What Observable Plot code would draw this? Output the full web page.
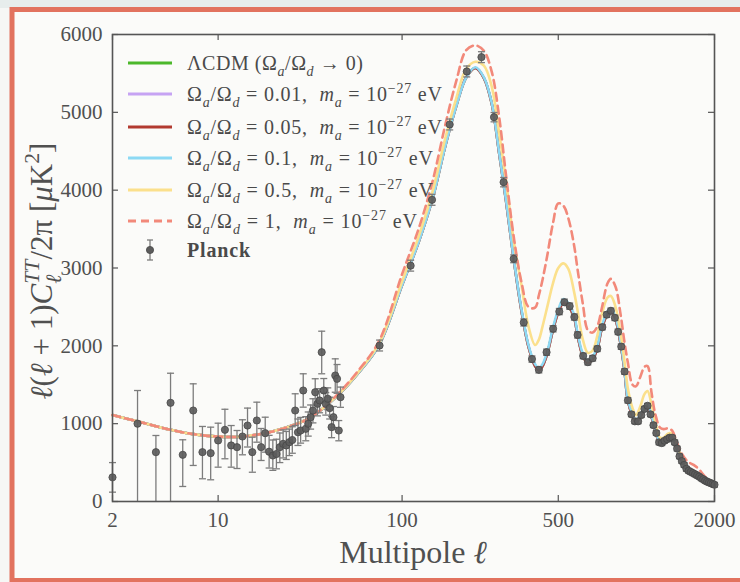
<!DOCTYPE html>
<html><head><meta charset="utf-8">
<script src="https://cdn.jsdelivr.net/npm/d3@7"></script>
<script src="https://cdn.jsdelivr.net/npm/@observablehq/plot@0.6"></script>
<style>
html,body{margin:0;padding:0;background:#f8f8f6;}
#chart svg{display:block}
</style></head><body><div id="chart"></div>
<script>
const xTicks = [2, 10, 100, 500, 2000];
const yTicks = [0, 1000, 2000, 3000, 4000, 5000, 6000];

// model curves: multipole grid and D_ell values per series
const ell = [2,3,4,5,7,10,13,18,25,34,47,60,77,100,120,140,160,180,200,220,240,260,280,300,325,350,375,400,415,430,450,475,500,525,550,580,600,630,660,690,720,750,790,815,850,890,920,950,990,1020,1060,1100,1130,1170,1210,1260,1300,1350,1400,1450,1500,1550,1600,1680,1750,1850,1950,2000];
const dLCDM = [1110,1030,968,922,866,834,830,868,950,1080,1355,1640,2010,2780,3330,3900,4560,5080,5450,5570,5440,5110,4480,3870,3090,2450,1990,1740,1690,1740,1900,2200,2430,2560,2510,2370,2130,1870,1780,1830,1960,2220,2410,2450,2340,2020,1700,1290,1100,1020,1090,1190,1225,1090,910,745,770,810,820,700,565,470,400,355,330,270,225,215];
const dPurple = [1110,1030,968,922,866,834,830,868,950,1080,1355,1640,2010,2780,3330,3900,4560,5080,5450,5570,5440,5110,4480,3870,3090,2450,1990,1740,1685,1740,1900,2200,2430,2555,2510,2370,2130,1870,1780,1830,1960,2220,2410,2450,2340,2020,1700,1290,1100,1020,1090,1190,1225,1090,910,745,770,810,820,700,565,470,400,355,330,270,225,215];
const dRed = [1110,1030,968,922,866,834,830,868,950,1080,1355,1640,2010,2780,3330,3900,4560,5080,5450,5570,5440,5110,4480,3870,3090,2450,1990,1740,1685,1740,1900,2200,2430,2550,2510,2370,2130,1870,1780,1830,1960,2220,2410,2450,2340,2020,1700,1290,1100,1020,1090,1190,1225,1090,910,745,770,810,820,700,565,470,400,355,330,270,225,215];
const dBlue = [1110,1030,968,922,866,834,830,868,950,1080,1355,1640,2010,2780,3330,3900,4560,5080,5450,5580,5450,5120,4490,3880,3100,2470,2010,1765,1715,1765,1925,2230,2465,2600,2550,2400,2160,1900,1810,1860,1990,2250,2440,2480,2370,2050,1720,1310,1120,1040,1110,1210,1245,1110,930,760,785,825,835,715,575,478,405,358,332,272,227,217];
const dYellow = [1110,1030,968,922,866,834,830,868,950,1080,1360,1650,2030,2830,3400,3990,4660,5180,5560,5650,5600,5330,4740,4130,3330,2780,2250,2010,2080,2250,2500,2800,3000,3060,2990,2700,2450,2080,1910,1940,2130,2400,2620,2640,2500,2160,1820,1450,1200,1110,1220,1380,1420,1250,1020,820,820,870,880,750,610,500,430,380,350,285,235,225];
const dDashed = [1110,1030,968,922,866,834,830,868,950,1080,1370,1670,2060,2920,3500,4120,4830,5400,5800,5860,5790,5520,4950,4200,3380,2820,2500,2490,2650,2850,3160,3570,3830,3800,3640,3300,2980,2540,2200,2170,2250,2480,2800,2860,2760,2400,2060,1780,1500,1480,1600,1730,1740,1400,1120,950,930,940,910,780,650,570,510,470,420,320,260,240];

// Planck low-ell (unbinned) points
const lowEll = [2,3,4,5,6,7,8,9,10,11,12,13,14,15,16,17,18,19,20,21,22,23,24,25,26,27,28,29,30,31,32,33,34,35,36,37,38,39,40,41,42,43,44,45,46,47,48,49];
const lowD = [310,1000,634,1268,600,1169,634,621,784,921,720,698,835,976,634,1041,698,878,640,591,610,698,741,720,762,790,1169,890,912,1426,934,998,1083,1169,1404,1255,1298,1918,1426,1255,1320,1200,955,1083,1619,1576,912,1340];
const lowLo = [120,0,0,0,193,463,292,279,441,549,441,424,600,700,376,762,527,634,430,400,420,500,560,540,590,620,976,720,750,1212,780,840,930,1010,1233,1100,1140,1641,1270,1110,1180,1060,820,950,1404,1390,780,1210];
const lowHi = [500,1426,848,1648,793,1512,964,955,1006,1185,976,912,1050,1200,826,1276,938,1083,850,790,800,880,920,900,930,960,1384,1060,1080,1641,1090,1150,1240,1320,1577,1410,1450,2188,1580,1400,1460,1340,1090,1220,1833,1760,1040,1470];

// Planck binned points
const binEll = [77.5,110,139,168,201,234,266,293,324,358,388,415,447,476,505,530,557,582,600,632,660,690,720,754,785,815,845,870,895,922,950,980,1010,1040,1070,1100,1130,1160,1190,1220,1250,1280,1310,1340,1370,1400,1430,1460,1490,1520,1550,1580,1610,1640,1670,1700,1730,1760,1790,1820,1850,1880,1910,1940,1970,2000];
const binD = [2004,3030,3876,4844,5525,5709,4938,4103,3118,2300,1830,1692,1918,2219,2440,2560,2510,2370,2140,1870,1790,1840,1962,2240,2400,2450,2360,2180,1990,1670,1300,1120,1030,1030,1110,1190,1230,1120,980,880,760,750,780,800,820,820,760,680,580,520,470,420,395,380,365,350,335,320,300,285,268,255,245,235,225,215];
const binErr = [70,70,70,70,70,70,60,60,50,45,40,40,40,40,40,40,40,40,40,35,35,35,35,35,35,35,35,35,35,35,35,30,30,30,30,30,30,30,30,30,30,30,30,30,30,30,30,30,30,30,30,30,30,30,30,30,30,30,30,30,30,30,30,30,30,30];

const legendLabels = [
  "ΛCDM (Ω_{a}/Ω_{d} → 0)",
  "Ω_{a}/Ω_{d} = 0.01,  $m$_{a} = 10^{−27} eV",
  "Ω_{a}/Ω_{d} = 0.05,  $m$_{a} = 10^{−27} eV",
  "Ω_{a}/Ω_{d} = 0.1,  $m$_{a} = 10^{−27} eV",
  "Ω_{a}/Ω_{d} = 0.5,  $m$_{a} = 10^{−27} eV",
  "Ω_{a}/Ω_{d} = 1,  $m$_{a} = 10^{−27} eV",
  "Planck"
];

// styles (kept apart from data)
const seriesStyle = [
  {d: dLCDM,   color: "#4cb82b", dash: null},
  {d: dPurple, color: "#c6a3f3", dash: null},
  {d: dRed,    color: "#b23a30", dash: null},
  {d: dBlue,   color: "#8cd9f4", dash: null},
  {d: dYellow, color: "#fbe08c", dash: null},
  {d: dDashed, color: "#f2897a", dash: "8,5"}
];
const legendLengths = [176, 255, 255, 246, 246, 230, 63];

const planck = [
  ...lowEll.map((l, i) => ({ell: l, D: lowD[i], lo: lowLo[i], hi: lowHi[i]})),
  ...binEll.map((l, i) => ({ell: l, D: binD[i], lo: binD[i] - binErr[i], hi: binD[i] + binErr[i]}))
];

const capSymbol = {draw(ctx, size) { const r = Math.sqrt(size / Math.PI); ctx.moveTo(-r, 0); ctx.lineTo(r, 0); }};

const W = 740, H = 582, ML = 112, MR = 26, MT = 34, MB = 81;
const frameW = W - ML - MR, frameH = H - MT - MB;
const tick = 6;
const axisColor = "#555";

const marks = [];
seriesStyle.forEach(s => {
  marks.push(Plot.line(ell.map((l, i) => ({ell: l, D: s.d[i]})), {
    x: "ell", y: "D", stroke: s.color, strokeWidth: 2.6, curve: "catmull-rom",
    strokeDasharray: s.dash
  }));
});
marks.push(
  Plot.ruleX(planck, {x: "ell", y1: "lo", y2: "hi", stroke: "#7c7c7c", strokeWidth: 1.3}),
  Plot.dot(planck, {x: "ell", y: "hi", r: 3.5, symbol: capSymbol, stroke: "#7c7c7c", strokeWidth: 1.3, fill: "none"}),
  Plot.dot(planck.filter(d => d.lo > 0), {x: "ell", y: "lo", r: 3.5, symbol: capSymbol, stroke: "#7c7c7c", strokeWidth: 1.3, fill: "none"}),
  Plot.dot(planck, {x: "ell", y: "D", r: 3.6, fill: "#5c5c5c", fillOpacity: 0.92, stroke: "#474747", strokeWidth: 0.8}),
  Plot.tickX(xTicks, {x: d => d, insetTop: frameH - tick, stroke: axisColor, strokeWidth: 1.2}),
  Plot.tickX(xTicks, {x: d => d, insetBottom: frameH - tick, stroke: axisColor, strokeWidth: 1.2}),
  Plot.tickY(yTicks, {y: d => d, insetRight: frameW - tick, stroke: axisColor, strokeWidth: 1.2}),
  Plot.tickY(yTicks, {y: d => d, insetLeft: frameW - tick, stroke: axisColor, strokeWidth: 1.2}),
  Plot.frame({stroke: axisColor, strokeWidth: 1.6}),
  Plot.axisX({ticks: xTicks, tickSize: 0, tickPadding: 11, tickFormat: d => String(d), label: null, fontSize: 21}),
  Plot.axisY({ticks: yTicks, tickSize: 0, tickPadding: 10, tickFormat: d => String(d), label: null, fontSize: 21})
);

const chart = Plot.plot({
  width: W, height: H,
  marginLeft: ML, marginRight: MR, marginTop: MT, marginBottom: MB,
  x: {type: "pow", exponent: 0.1, domain: [2, 2000]},
  y: {domain: [0, 6000]},
  style: {fontFamily: "'Liberation Serif', serif", color: "#505050", background: "none", overflow: "visible"},
  marks
});
document.getElementById("chart").appendChild(chart);

const svg = d3.select(chart);
// backgrounds
const bg = svg.insert("g", ":first-child");
bg.append("rect").attr("x", 0).attr("y", 0).attr("width", W).attr("height", H).attr("fill", "#fbfbf9");
bg.append("rect").attr("x", 0).attr("y", 0).attr("width", W).attr("height", 8).attr("fill", "#e7edec");
bg.append("rect").attr("x", 0).attr("y", 8).attr("width", 10).attr("height", H).attr("fill", "#f6f7f5");

// rich text helper: _{sub}, ^{sup}, ~{sup stacked over previous sub}, $italic$
function richText(sel, str, base) {
  const tokens = str.split(/(_\{[^}]*\}|\^\{[^}]*\}|~\{[^}]*\}|\$[^$]*\$)/).filter(t => t.length);
  let shift = 0, lastLen = 0;
  tokens.forEach(t => {
    let txt = t, size = base, target = 0, italic = false, dx = 0;
    if (t.startsWith("_{")) { txt = t.slice(2, -1); size = base * 0.7; target = base * 0.28; italic = /[a-zℓ]/.test(txt); }
    else if (t.startsWith("^{")) { txt = t.slice(2, -1); size = base * 0.7; target = -base * 0.42; }
    else if (t.startsWith("~{")) { txt = t.slice(2, -1); size = base * 0.7; target = -base * 0.42; italic = true; dx = -lastLen; }
    else if (t.startsWith("$")) { txt = t.slice(1, -1); italic = true; }
    const ts = sel.append("tspan").text(txt).attr("font-size", size).attr("dy", target - shift);
    if (dx) ts.attr("dx", dx);
    if (italic) ts.attr("font-style", "italic");
    lastLen = ts.node().getComputedTextLength();
    shift = target;
  });
  if (shift) sel.append("tspan").text("\u200b").attr("dy", -shift);
}

// legend
const legend = svg.append("g").attr("font-family", "'Liberation Serif', serif").attr("fill", "#4a4a4a").attr("text-anchor", "start");
const rowY = [63, 94, 127, 158, 190, 221, 250];
legendLabels.forEach((lab, i) => {
  const y = rowY[i];
  if (i < seriesStyle.length) {
    const s = seriesStyle[i];
    legend.append("line").attr("x1", 128).attr("x2", 172).attr("y1", y).attr("y2", y)
      .attr("stroke", s.color).attr("stroke-width", 3).attr("stroke-dasharray", s.dash);
  } else {
    legend.append("line").attr("x1", 150).attr("x2", 150).attr("y1", y - 10).attr("y2", y + 10).attr("stroke", "#7c7c7c").attr("stroke-width", 1.3);
    legend.append("line").attr("x1", 147).attr("x2", 153).attr("y1", y - 10).attr("y2", y - 10).attr("stroke", "#7c7c7c").attr("stroke-width", 1.3);
    legend.append("line").attr("x1", 147).attr("x2", 153).attr("y1", y + 10).attr("y2", y + 10).attr("stroke", "#7c7c7c").attr("stroke-width", 1.3);
    legend.append("circle").attr("cx", 150).attr("cy", y).attr("r", 3.6).attr("fill", "#5c5c5c").attr("stroke", "#474747").attr("stroke-width", 0.8);
  }
  const t = legend.append("text").attr("x", 187).attr("y", y + 7).attr("font-size", 20).attr("text-anchor", "start")
    .attr("textLength", legendLengths[i]).attr("lengthAdjust", "spacing");
  if (i === legendLabels.length - 1) t.attr("font-weight", "bold");
  richText(t, lab, 20);
});

// x label
const xl = svg.append("text").attr("x", 413).attr("y", 563).attr("text-anchor", "middle")
  .attr("font-family", "'Liberation Serif', serif").attr("font-size", 32).attr("fill", "#505050");
richText(xl, "Multipole $ℓ$", 32);

// y label
const yl = svg.append("text").attr("transform", "translate(52,271) rotate(-90)").attr("text-anchor", "middle")
  .attr("font-family", "'Liberation Serif', serif").attr("font-size", 31).attr("fill", "#505050");
richText(yl, "$ℓ$($ℓ$ + 1)$C$_{ℓ}~{TT}/2π [$μ$K^{2}]", 31);

// slide border
svg.append("rect").attr("x", 12).attr("y", 9.5).attr("width", 800).attr("height", 571)
  .attr("fill", "none").attr("stroke", "#e2735f").attr("stroke-width", 5);
</script></body></html>
